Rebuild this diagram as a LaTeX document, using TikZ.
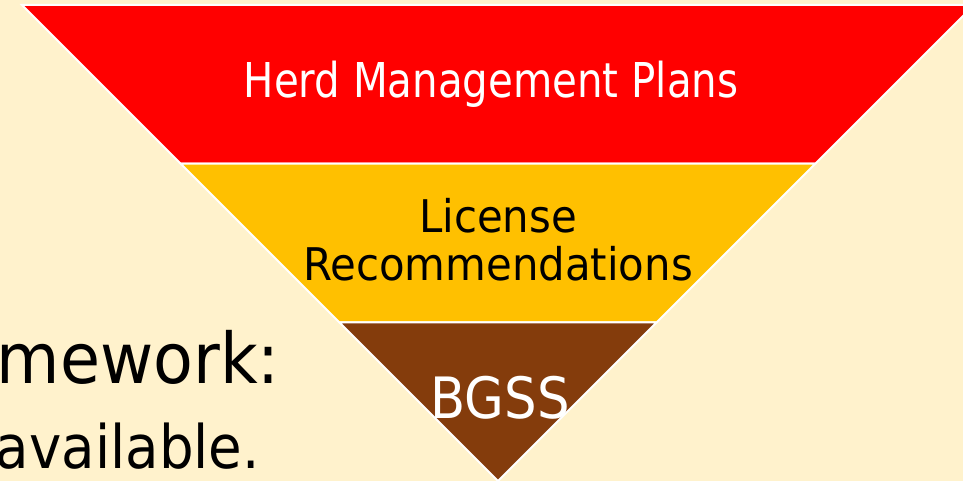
\documentclass[tikz,border=0pt]{standalone}
\usepackage{fontspec}
\setmainfont{DejaVu Sans}[FakeStretch=0.88]
\usetikzlibrary{calc}
\definecolor{bgcream}{HTML}{FFF2CC}
\definecolor{bandred}{HTML}{FF0000}
\definecolor{bandyellow}{HTML}{FFC000}
\definecolor{bandbrown}{HTML}{843C0C}
\tikzset{
  band/.style={draw=white, line width=2pt, line join=miter},
  lbl/.style={inner sep=0pt, anchor=base},
}
\begin{document}
\begin{tikzpicture}[x=1pt,y=-1pt]
\fill[bgcream] (0,0) rectangle (963,481);
\useasboundingbox (0,0) rectangle (963,481);
\clip (0,0) rectangle (963,481);
% triangle geometry
\coordinate (tl) at (22,5);
\coordinate (tr) at (974,5);
\coordinate (ap) at (498,481);
\coordinate (l1) at ($(tl)!1/3!(ap)$);
\coordinate (r1) at ($(tr)!1/3!(ap)$);
\coordinate (l2) at ($(tl)!2/3!(ap)$);
\coordinate (r2) at ($(tr)!2/3!(ap)$);
\filldraw[band, fill=bandred] (tl) -- (tr) -- (r1) -- (l1) -- cycle;
\filldraw[band, fill=bandyellow] (l1) -- (r1) -- (r2) -- (l2) -- cycle;
\filldraw[band, fill=bandbrown] (l2) -- (r2) -- (ap) -- cycle;
% labels
\node[lbl, text=white, font=\fontsize{48}{50}\selectfont\addfontfeatures{FakeStretch=0.84}] (herd) at (491,98) {Herd Management Plans};
\node[lbl, text=black, font=\fontsize{45}{50}\selectfont\addfontfeatures{FakeStretch=0.93}] (lic) at (498,232) {License};
\node[lbl, text=black, font=\fontsize{45}{50}\selectfont\addfontfeatures{FakeStretch=0.93}] (rec) at (498,280) {Recommendations};
\node[lbl, text=white, font=\fontsize{57}{60}\selectfont\addfontfeatures{FakeStretch=0.9}] (bgss) at (500,418) {BGSS};
\node[lbl, anchor=base east, text=black, font=\fontsize{70}{72}\selectfont\addfontfeatures{FakeStretch=0.93}] (fw) at (280,383) {mework:};
\node[lbl, anchor=base east, text=black, font=\fontsize{60}{62}\selectfont\addfontfeatures{FakeStretch=0.91}] (av) at (260,468) {available.};
\end{tikzpicture}
\end{document}
